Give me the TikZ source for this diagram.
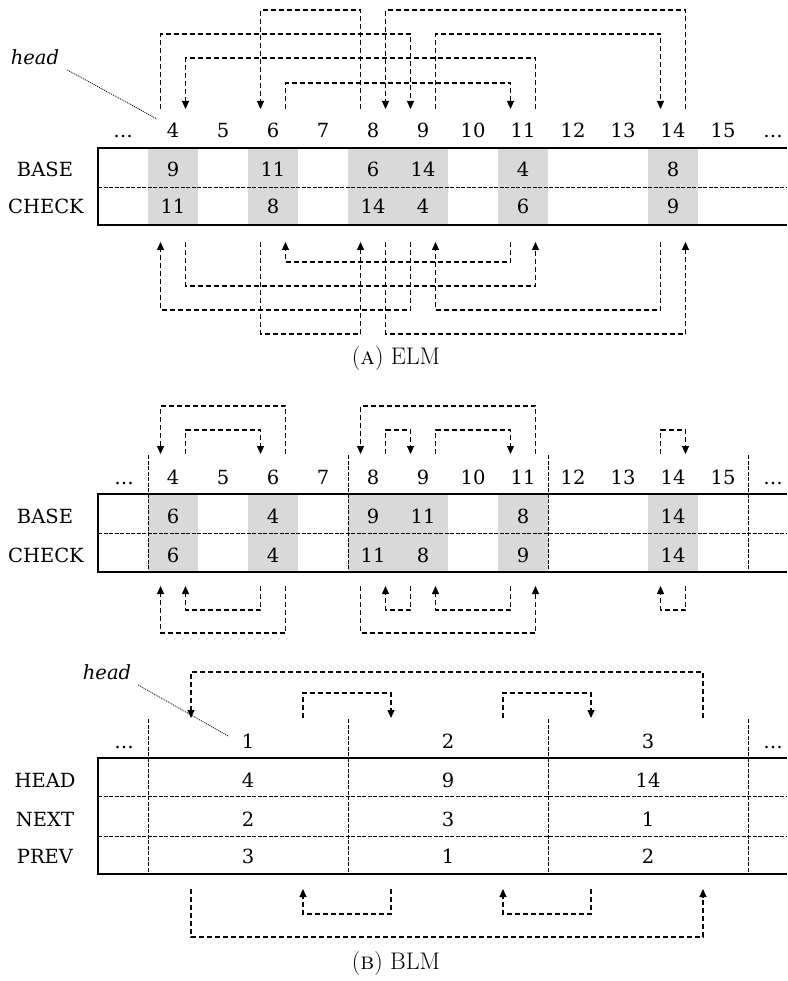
\documentclass[tikz,border=0pt]{standalone}
\usepackage{fontspec}
\usetikzlibrary{arrows.meta,calc}
\newfontfamily\dfont{DejaVu Serif}
\newcommand\lnk[3]{\draw[link] (#1) -- (#1 |- 0,#3) -| (#2);}
\begin{document}
\begin{tikzpicture}[x=1pt,y=-1pt,
  lbl/.style={font=\dfont\fontsize{19.5}{22}\selectfont, inner sep=0pt, anchor=base},
  hd/.style={font=\dfont\itshape\fontsize{19.5}{22}\selectfont, inner sep=0pt, anchor=base},
  captxt/.style={font=\fontsize{24}{28}\selectfont, inner sep=0pt},
  link/.style={dash pattern=on 5pt off 3pt, line width=1.1pt, -{Triangle[width=7pt,length=8pt]}},
  cellfill/.style={fill=black!15},
  frame/.style={line width=1.3pt},
  fine/.style={dash pattern=on 4pt off 1.5pt, line width=0.9pt},
  ptr/.style={dash pattern=on 1pt off 1pt, line width=0.8pt},
]
\useasboundingbox (0,0) rectangle (787,981);

%% ================= (A) ELM =================
\foreach \k in {4,6,8,9,11,14} \fill[cellfill] ({148+(\k-4)*50},148) rectangle ++(50,77);
\draw[frame] (787,148) -- (98,148) -- (98,225) -- (787,225);
\draw[fine] (98,187) -- (787,187);
\node[lbl] (eBASE) at (45,177) {BASE};
\node[lbl] (eCHECK) at (46,214) {CHECK};
\node[lbl] (ea3) at (123,138) {…};
\node[lbl] (ea16) at (773,138) {…};
\foreach \k in {4,...,15} \node[lbl] (ea\k) at ({173+(\k-4)*50},138) {\k};
\foreach \k/\b/\c in {4/9/11, 6/11/8, 8/6/14, 9/14/4, 11/4/6, 14/8/9} {
  \node[lbl] (eb\k) at ({173+(\k-4)*50},177) {\b};
  \node[lbl] (ec\k) at ({173+(\k-4)*50},214) {\c};
  \coordinate (etl\k) at ({160.5+(\k-4)*50},109);
  \coordinate (etr\k) at ({185.5+(\k-4)*50},109);
  \coordinate (ebl\k) at ({160.5+(\k-4)*50},242);
  \coordinate (ebr\k) at ({185.5+(\k-4)*50},242);
}
\node[hd] (headA) at (35,64.5) {head};
\coordinate (headAend) at (157,119);
\draw[ptr] ([xshift=8pt,yshift=-5pt]headA.south east) -- (headAend);
% BASE (next) links
\lnk{etl8}{etl6}{10}
\lnk{etr14}{etr8}{10}
\lnk{etl4}{etl9}{34}
\lnk{etr9}{etl14}{34}
\lnk{etr11}{etr4}{58}
\lnk{etr6}{etl11}{83}
% CHECK (prev) links
\lnk{ebl11}{ebr6}{262}
\lnk{ebr4}{ebr11}{286}
\lnk{ebl9}{ebl4}{310}
\lnk{ebl14}{ebr9}{310}
\lnk{ebl6}{ebl8}{334}
\lnk{ebr8}{ebr14}{334}
\node[captxt] (capA) at (396,359) {(\textsc{a})\ ELM};

%% ================= (B) BLM, upper table =================
\foreach \k in {4,6,8,9,11,14} \fill[cellfill] ({148+(\k-4)*50},494) rectangle ++(50,78);
\draw[frame] (787,494) -- (98,494) -- (98,572) -- (787,572);
\draw[fine] (98,533) -- (787,533);
\foreach \x in {148,348,548,748} \draw[fine] (\x,455) -- (\x,572);
\node[lbl] (mBASE) at (45,523) {BASE};
\node[lbl] (mCHECK) at (46,562) {CHECK};
\node[lbl] (ma3) at (124,484) {…};
\node[lbl] (ma16) at (773,484) {…};
\foreach \k in {4,...,15} \node[lbl] (ma\k) at ({173+(\k-4)*50},484) {\k};
\foreach \k/\b/\c in {4/6/6, 6/4/4, 8/9/11, 9/11/8, 11/8/9, 14/14/14} {
  \node[lbl] (mb\k) at ({173+(\k-4)*50},523) {\b};
  \node[lbl] (mc\k) at ({173+(\k-4)*50},562) {\c};
  \coordinate (mtl\k) at ({160.5+(\k-4)*50},454);
  \coordinate (mtr\k) at ({185.5+(\k-4)*50},454);
  \coordinate (mbl\k) at ({160.5+(\k-4)*50},586);
  \coordinate (mbr\k) at ({185.5+(\k-4)*50},586);
}
\lnk{mtr6}{mtl4}{406}
\lnk{mtr4}{mtl6}{430}
\lnk{mtr11}{mtl8}{406}
\lnk{mtr8}{mtl9}{430}
\lnk{mtr9}{mtl11}{430}
\lnk{mtl14}{mtr14}{430}
\lnk{mbl6}{mbr4}{610}
\lnk{mbr6}{mbl4}{633}
\lnk{mbl9}{mbr8}{610}
\lnk{mbl11}{mbr9}{610}
\lnk{mbl8}{mbr11}{633}
\lnk{mbr14}{mbl14}{610}

%% ================= (B) BLM, lower table =================
\draw[frame] (787,758) -- (98,758) -- (98,874) -- (787,874);
\draw[fine] (98,796) -- (787,796);
\draw[fine] (98,836) -- (787,836);
\foreach \x in {148,348,548,748} \draw[fine] (\x,719) -- (\x,874);
\node[lbl] (bHEAD) at (45,787) {HEAD};
\node[lbl] (bNEXT) at (45,826) {NEXT};
\node[lbl] (bPREV) at (45,863) {PREV};
\node[lbl] (ba0) at (124,748) {…};
\node[lbl] (ba4) at (773,748) {…};
\foreach \k/\h/\n/\p in {1/4/2/3, 2/9/3/1, 3/14/1/2} {
  \node[lbl] (ba\k) at ({248+(\k-1)*200},748) {\k};
  \node[lbl] (bh\k) at ({248+(\k-1)*200},787) {\h};
  \node[lbl] (bn\k) at ({248+(\k-1)*200},826) {\n};
  \node[lbl] (bp\k) at ({248+(\k-1)*200},863) {\p};
  \coordinate (btl\k) at ({191+(\k-1)*200},718);
  \coordinate (btr\k) at ({303+(\k-1)*200},718);
  \coordinate (bbl\k) at ({191+(\k-1)*200},889);
  \coordinate (bbr\k) at ({303+(\k-1)*200},889);
}
\node[hd] (headB) at (107,679.5) {head};
\coordinate (headBend) at (228,736);
\draw[ptr] ([xshift=7pt,yshift=-5pt]headB.south east) -- (headBend);
\lnk{btr3}{btl1}{672}
\lnk{btr1}{btl2}{693}
\lnk{btr2}{btl3}{693}
\lnk{bbl2}{bbr1}{914}
\lnk{bbl3}{bbr2}{914}
\lnk{bbl1}{bbr3}{937}
\node[captxt] (capB) at (396,963) {(\textsc{b})\ BLM};
\end{tikzpicture}
\end{document}
